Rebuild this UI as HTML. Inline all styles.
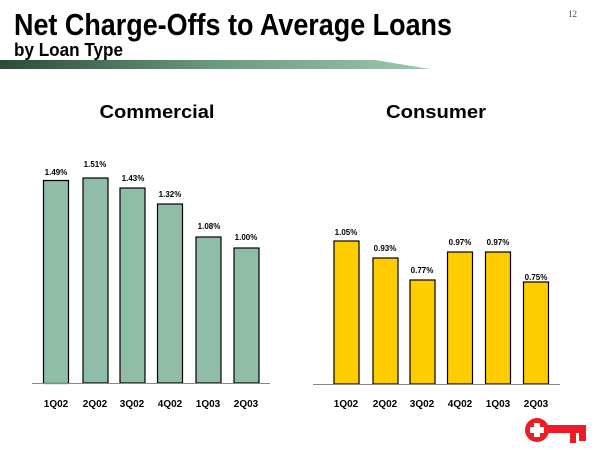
<!DOCTYPE html>
<html><head><style>
body{margin:0;background:#fff;}
svg{display:block;font-family:"Liberation Sans",Arial,sans-serif;}
</style></head><body>
<svg width="600" height="450" viewBox="0 0 600 450">
<defs>
<linearGradient id="g" x1="0" x2="1" y1="0" y2="0">
<stop offset="0" stop-color="#2f4a37"/>
<stop offset="0.5" stop-color="#6a9a7e"/>
<stop offset="1" stop-color="#9cc8b0"/>
</linearGradient>
</defs>
<text x="14" y="35" font-size="31" font-weight="bold" fill="#000" textLength="438" lengthAdjust="spacingAndGlyphs">Net Charge-Offs to Average Loans</text>
<text x="14" y="56" font-size="18" font-weight="bold" fill="#000" textLength="109" lengthAdjust="spacingAndGlyphs">by Loan Type</text>
<text x="568" y="17" font-size="9" font-family="Liberation Serif,serif" fill="#444">12</text>
<polygon points="0,60 375,60 430,69 0,69" fill="url(#g)"/>
<text x="157" y="118" font-size="18" font-weight="bold" text-anchor="middle" textLength="115" lengthAdjust="spacingAndGlyphs">Commercial</text>
<text x="436" y="118" font-size="18" font-weight="bold" text-anchor="middle" textLength="100" lengthAdjust="spacingAndGlyphs">Consumer</text>
<g stroke="#000" stroke-width="1.2" fill="#8fbda7">
<rect x="43.5" y="180.5" width="25" height="203"/>
<rect x="83" y="178" width="25" height="205"/>
<rect x="120" y="188" width="25" height="195"/>
<rect x="157.5" y="204" width="25" height="179"/>
<rect x="196" y="237" width="25" height="146"/>
<rect x="234" y="248" width="25" height="135"/>
</g>
<g stroke="#000" stroke-width="1.2" fill="#ffcc00">
<rect x="334" y="241" width="25" height="143"/>
<rect x="373" y="258" width="25" height="126"/>
<rect x="410" y="280" width="25" height="104"/>
<rect x="447.5" y="252" width="25" height="132"/>
<rect x="485.5" y="252" width="25" height="132"/>
<rect x="523.5" y="282" width="25" height="102"/>
</g>
<line x1="32" y1="383.5" x2="270" y2="383.5" stroke="#888" stroke-width="1"/>
<line x1="313" y1="384.5" x2="560" y2="384.5" stroke="#888" stroke-width="1"/>
<g font-size="8" font-weight="bold" text-anchor="middle" fill="#000">
<text x="56" y="175">1.49%</text><text x="95" y="167">1.51%</text><text x="133" y="181">1.43%</text>
<text x="170" y="197">1.32%</text><text x="209" y="229">1.08%</text><text x="246" y="240">1.00%</text>
<text x="346" y="235">1.05%</text><text x="385" y="251">0.93%</text><text x="422" y="273">0.77%</text>
<text x="460" y="245">0.97%</text><text x="498" y="245">0.97%</text><text x="536" y="280">0.75%</text>
</g>
<g font-size="10" font-weight="bold" text-anchor="middle" fill="#000">
<text x="56" y="407">1Q02</text><text x="95" y="407">2Q02</text><text x="132" y="407">3Q02</text>
<text x="170" y="407">4Q02</text><text x="208" y="407">1Q03</text><text x="246" y="407">2Q03</text>
<text x="346" y="407">1Q02</text><text x="385" y="407">2Q02</text><text x="422" y="407">3Q02</text>
<text x="460" y="407">4Q02</text><text x="498" y="407">1Q03</text><text x="536" y="407">2Q03</text>
</g>
<g fill="#ee1c25">
<circle cx="537" cy="430" r="12"/>
<rect x="543" y="425" width="43" height="8"/>
<rect x="570" y="431" width="6" height="12"/>
<rect x="579" y="431" width="7" height="10"/>
</g>
<g fill="#fff">
<rect x="534" y="423" width="6" height="14"/>
<rect x="530" y="427" width="14" height="6"/>
</g>
</svg>
</body></html>
